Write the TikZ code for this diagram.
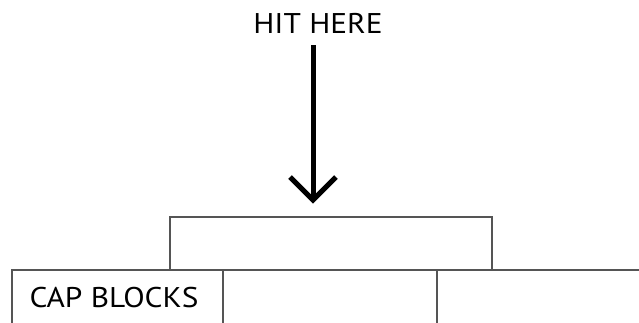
\documentclass[tikz,border=0pt]{standalone}
\usepackage{fontspec}
\setmainfont[FakeStretch=1.1]{PT Sans}
\usetikzlibrary{arrows.meta}
\definecolor{edge}{HTML}{555555}
\begin{document}
\begin{tikzpicture}[x=1pt,y=-1pt,
  blockbox/.style={draw=edge,line width=2pt},
  label/.style={font=\fontsize{28.5}{32}\selectfont,inner sep=0pt,anchor=base}]
\useasboundingbox (0,0) rectangle (639,322);
\fill[white] (0,0) rectangle (639,322);
% cap blocks row
\draw[blockbox] (12,340) -- (12,270) -- (660,270);
\draw[blockbox] (223,270) -- (223,340);
\draw[blockbox] (437,270) -- (437,340);
% top block
\draw[blockbox] (170,270) -- (170,217) -- (492,217) -- (492,270);
\node[label] (hit) at (318,33) {HIT HERE};
\node[label] (cap) at (114,307) {CAP BLOCKS};
\coordinate (top) at (313,217);
\coordinate (tip) at (313,200);
\draw[line width=5pt] (313,45) -- (tip);
\draw[line width=5pt,line join=miter] (290,177) -- (tip) -- (336,177);
\end{tikzpicture}
\end{document}
